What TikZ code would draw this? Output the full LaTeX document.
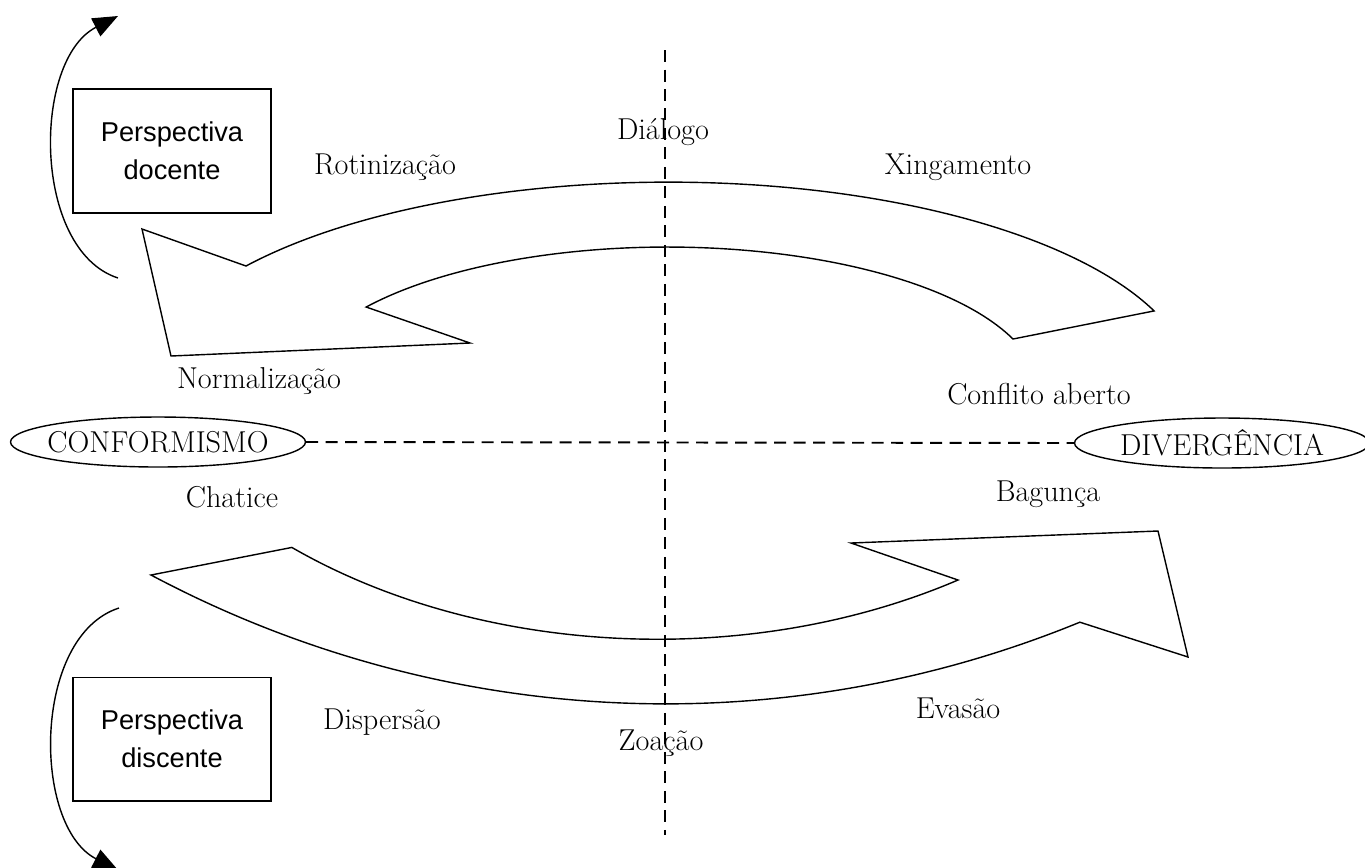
\documentclass[tikz,border=0pt]{standalone}
\usepackage{fontspec}
\newfontfamily\boxfont{Liberation Sans}
\usepackage{tikz}
\usetikzlibrary{arrows.meta,shapes.geometric}

\begin{document}
\begin{tikzpicture}[x=0.02cm, y=-0.02cm,
    word/.style={font=\fontsize{17.2}{20}\selectfont},
    pole/.style={draw, ellipse, line width=0.8pt, minimum width=5.9cm, minimum height=1cm, inner sep=0pt},
    view/.style={draw, line width=0.6pt, minimum width=3.96cm, minimum height=2.48cm, align=center, font=\boxfont\fontsize{15.5}{21.6}\selectfont},
    axis/.style={line width=1.1pt, dash pattern=on 0.24cm off 0.15cm},
    band/.style={line width=0.8pt, line join=miter},
    turn/.style={line width=0.8pt, -{Triangle[length=0.5cm, width=0.4cm]}}]
    \useasboundingbox (0,0) rectangle (1365,867);

    % poles
    \node[pole, label={[word]center:CONFORMISMO}] (conf) at (158,442) {};
    \node[pole, label={[word]center:DIVERGÊNCIA}] (div) at (1222,443) {};

    % axes
    \coordinate (vtop) at (665,50);
    \coordinate (vbot) at (665,835);
    \draw[axis] (vtop) -- (vbot);
    \draw[axis] (conf.east) -- (div.west);

    % perspectives
    \node[view] (doc) at (172,151) {Perspectiva\\docente};
    \node[view] (disc) at (172,739) {Perspectiva\\discente};

    \coordinate (docfrom) at (118,278);
    \coordinate (docto) at (118,16);
    \draw[turn] (docfrom) .. controls (32,250) and (32,60) .. (docto);
    \coordinate (discfrom) at (119,608);
    \coordinate (discto) at (118,870);
    \draw[turn] (discfrom) .. controls (32,636) and (32,826) .. (discto);

    % upper band, pointing left
    \draw[band] (246,266) arc[start angle=-143.5, end angle=-22.2, x radius=525, y radius=207]
        -- (1013,339) arc[start angle=-21.6, end angle=-144, x radius=372, y radius=145.5]
        -- (470,343) -- (171,356) -- (142,229) -- cycle;

    % lower band, pointing right
    \draw[band] (151,575) arc[start angle=117.1, end angle=68.5, x radius=1130, y radius=1174]
        -- (1188,657) -- (1158,531) -- (851,543) -- (958,580)
        arc[start angle=58.5, end angle=129.5, x radius=575, y radius=402] -- cycle;

    % labels
    \foreach \name/\pos/\txt in {dia/{(663,132)}/{Diálogo},
        rot/{(385,167)}/{Rotinização},
        xin/{(958,167)}/{Xingamento},
        nor/{(259,381)}/{Normalização},
        con/{(1039,394)}/{Conflito aberto},
        cha/{(232,497)}/{Chatice},
        bag/{(1048,494)}/{Bagunça},
        dis/{(382,722)}/{Dispersão},
        eva/{(958,708)}/{Evasão},
        zoa/{(661,743)}/{Zoação}}{
        \node[word] (\name) at \pos {\txt};
    }
\end{tikzpicture}
\end{document}
